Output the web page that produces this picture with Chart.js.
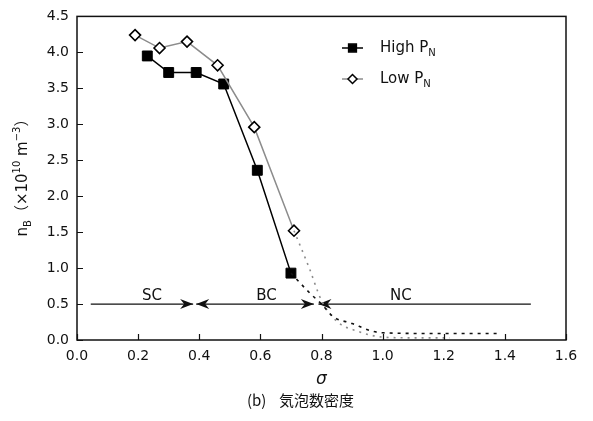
<!DOCTYPE html>
<html>
<head>
<meta charset="utf-8">
<script src="https://cdn.jsdelivr.net/npm/chart.js@4.4.1/dist/chart.umd.min.js"></script>
<style>
  html, body { margin: 0; padding: 0; background: #fff; }
</style>
</head>
<body>
<canvas id="chart" width="593" height="421"></canvas>
<script>
// Measured points
const highX = [0.23, 0.30, 0.39, 0.48, 0.59, 0.70];
const highY = [3.95, 3.72, 3.72, 3.56, 2.36, 0.93];
const lowX = [0.19, 0.27, 0.36, 0.46, 0.58, 0.71];
const lowY = [4.24, 4.06, 4.15, 3.82, 2.96, 1.52];

// Dotted extrapolated tails
const highTailX = [0.70, 0.76, 0.80, 0.84, 0.90, 0.96, 1.00, 1.20, 1.38];
const highTailY = [0.93, 0.66, 0.50, 0.32, 0.23, 0.13, 0.10, 0.09, 0.09];
const lowTailX = [0.71, 0.76, 0.80, 0.85, 0.92, 1.00, 1.10, 1.22];
const lowTailY = [1.52, 1.00, 0.55, 0.26, 0.12, 0.04, 0.03, 0.03];

// Axis ticks
const xTicks = [0.0, 0.2, 0.4, 0.6, 0.8, 1.0, 1.2, 1.4, 1.6];
const yTicks = [0.0, 0.5, 1.0, 1.5, 2.0, 2.5, 3.0, 3.5, 4.0, 4.5];

// Regime arrows along n = 0.5
const regimeNames = ['SC', 'BC', 'NC'];
const regimeStart = [0.045, 0.39, 0.79];
const regimeEnd = [0.38, 0.775, 1.485];
const regimeLabelX = [0.245, 0.62, 1.06];
const regimeLevel = 0.5;

const FONT = '"DejaVu Sans", "Noto Sans CJK JP", sans-serif';

function pts(xs, ys) {
    return xs.map((x, i) => ({ x: x, y: ys[i] }));
}

// draw text made of pieces (sub/superscripts), centred on x
function drawRich(ctx, parts, x, y) {
    let total = 0;
    parts.forEach(p => {
        ctx.font = p.size + 'px ' + FONT;
        total += ctx.measureText(p.t).width;
    });
    let cx = x - total / 2;
    ctx.textAlign = 'left';
    ctx.textBaseline = 'alphabetic';
    parts.forEach(p => {
        ctx.font = p.size + 'px ' + FONT;
        ctx.fillText(p.t, cx, y + (p.dy || 0));
        cx += ctx.measureText(p.t).width;
    });
}

function arrowHead(ctx, tx, ty, dir) {
    ctx.beginPath();
    ctx.moveTo(tx, ty);
    ctx.lineTo(tx - dir * 13, ty - 5);
    ctx.lineTo(tx - dir * 9, ty);
    ctx.lineTo(tx - dir * 13, ty + 5);
    ctx.closePath();
    ctx.fill();
}

const decor = {
    id: 'decor',
    beforeDatasetsDraw(chart) {
        const { ctx, scales: { x, y } } = chart;
        const py = y.getPixelForValue(regimeLevel);
        ctx.save();
        ctx.strokeStyle = '#111';
        ctx.fillStyle = '#111';
        ctx.lineWidth = 1.3;
        regimeNames.forEach((name, i) => {
            const x0 = x.getPixelForValue(regimeStart[i]);
            const x1 = x.getPixelForValue(regimeEnd[i]);
            ctx.beginPath();
            ctx.moveTo(x0, py);
            ctx.lineTo(x1, py);
            ctx.stroke();
            if (i < regimeNames.length - 1) arrowHead(ctx, x1, py, 1);
            if (i > 0) arrowHead(ctx, x0, py, -1);
            ctx.font = '15px ' + FONT;
            ctx.textAlign = 'center';
            ctx.textBaseline = 'alphabetic';
            ctx.fillText(name, x.getPixelForValue(regimeLabelX[i]), py - 4);
        });
        ctx.restore();
    },
    afterDraw(chart) {
        const { ctx, chartArea: a, scales: { x, y } } = chart;
        ctx.save();
        // frame
        ctx.strokeStyle = '#111';
        ctx.lineWidth = 1.5;
        ctx.strokeRect(a.left, a.top, a.right - a.left, a.bottom - a.top);
        // inward ticks
        ctx.beginPath();
        xTicks.forEach(v => {
            const px = Math.round(x.getPixelForValue(v)) + 0.5;
            ctx.moveTo(px, a.bottom);
            ctx.lineTo(px, a.bottom - 6);
        });
        yTicks.forEach(v => {
            const py = Math.round(y.getPixelForValue(v)) + 0.5;
            ctx.moveTo(a.left, py);
            ctx.lineTo(a.left + 6, py);
        });
        ctx.lineWidth = 1.2;
        ctx.stroke();

        ctx.fillStyle = '#111';
        // x axis title and caption
        ctx.font = 'italic 17px ' + FONT;
        ctx.textAlign = 'center';
        ctx.textBaseline = 'alphabetic';
        ctx.fillText('σ', x.getPixelForValue(0.8), 384);
        ctx.font = '15px "Noto Sans CJK JP", sans-serif';
        ctx.textAlign = 'left';
        ctx.fillText('(b)', 247, 406);
        ctx.fillText('気泡数密度', 279, 406);

        // y axis title
        ctx.save();
        ctx.translate(27, 174);
        ctx.rotate(-Math.PI / 2);
        drawRich(ctx, [
            { t: 'n', size: 15 },
            { t: 'B', size: 10, dy: 4 },
            { t: '（×10', size: 15 },
            { t: '10', size: 10, dy: -7 },
            { t: ' m', size: 15 },
            { t: '−3', size: 10, dy: -7 },
            { t: '）', size: 15 }
        ], 0, 0);
        ctx.restore();

        // legend
        const rows = [
            { label: 'High P', color: '#000', style: 'rect', fill: '#000', yv: 48, r: 5.5 },
            { label: 'Low P', color: '#8c8c8c', style: 'rectRot', fill: '#fff', yv: 79, r: 4.5 }
        ];
        rows.forEach(r => {
            ctx.strokeStyle = r.color;
            ctx.lineWidth = 1.5;
            ctx.beginPath();
            ctx.moveTo(342, r.yv);
            ctx.lineTo(363, r.yv);
            ctx.stroke();
            ctx.fillStyle = r.fill;
            ctx.strokeStyle = '#000';
            Chart.helpers.drawPoint(ctx, {
                pointStyle: r.style,
                radius: r.r,
                borderWidth: 1.5
            }, 352.5, r.yv);
            ctx.fillStyle = '#111';
            ctx.font = '15px ' + FONT;
            ctx.textAlign = 'left';
            ctx.textBaseline = 'middle';
            ctx.fillText(r.label, 380, r.yv);
            const w = ctx.measureText(r.label).width;
            ctx.font = '10px ' + FONT;
            ctx.fillText('N', 380 + w, r.yv + 5);
        });
        ctx.restore();
    }
};

new Chart(document.getElementById('chart'), {
    type: 'scatter',
    data: {
        datasets: [
            {
                label: 'High tail',
                data: pts(highTailX, highTailY),
                showLine: true,
                borderColor: '#111',
                borderWidth: 1.6,
                borderDash: [3, 5],
                cubicInterpolationMode: 'monotone',
                pointRadius: 0
            },
            {
                label: 'Low tail',
                data: pts(lowTailX, lowTailY),
                showLine: true,
                borderColor: '#8c8c8c',
                borderWidth: 1.6,
                borderDash: [2, 5],
                cubicInterpolationMode: 'monotone',
                pointRadius: 0
            },
            {
                label: 'Low PN',
                data: pts(lowX, lowY),
                showLine: true,
                borderColor: '#8c8c8c',
                borderWidth: 1.5,
                pointStyle: 'rectRot',
                pointRadius: 5.5,
                pointBorderColor: '#000',
                pointBackgroundColor: '#fff',
                pointBorderWidth: 1.6
            },
            {
                label: 'High PN',
                data: pts(highX, highY),
                showLine: true,
                borderColor: '#000',
                borderWidth: 1.5,
                pointStyle: 'rect',
                pointRadius: 7,
                pointBorderColor: '#000',
                pointBackgroundColor: '#000',
                pointBorderWidth: 1
            }
        ]
    },
    options: {
        responsive: false,
        animation: false,
        layout: { padding: { top: 14, right: 27, left: 0, bottom: 0 } },
        plugins: { legend: { display: false }, tooltip: { enabled: false } },
        scales: {
            x: {
                type: 'linear',
                min: 0,
                max: 1.6,
                afterBuildTicks: s => { s.ticks = xTicks.map(v => ({ value: v })); },
                afterFit: s => { s.height = 81; },
                grid: { display: false, drawTicks: false },
                border: { display: false },
                ticks: {
                    padding: 8,
                    color: '#111',
                    font: { family: FONT, size: 14 },
                    callback: v => v.toFixed(1)
                }
            },
            y: {
                type: 'linear',
                min: 0,
                max: 4.5,
                afterBuildTicks: s => { s.ticks = yTicks.map(v => ({ value: v })); },
                afterFit: s => { s.width = 77; },
                grid: { display: false, drawTicks: false },
                border: { display: false },
                ticks: {
                    padding: 8,
                    color: '#111',
                    font: { family: FONT, size: 14 },
                    callback: v => v.toFixed(1)
                }
            }
        }
    },
    plugins: [decor]
});
</script>
</body>
</html>
